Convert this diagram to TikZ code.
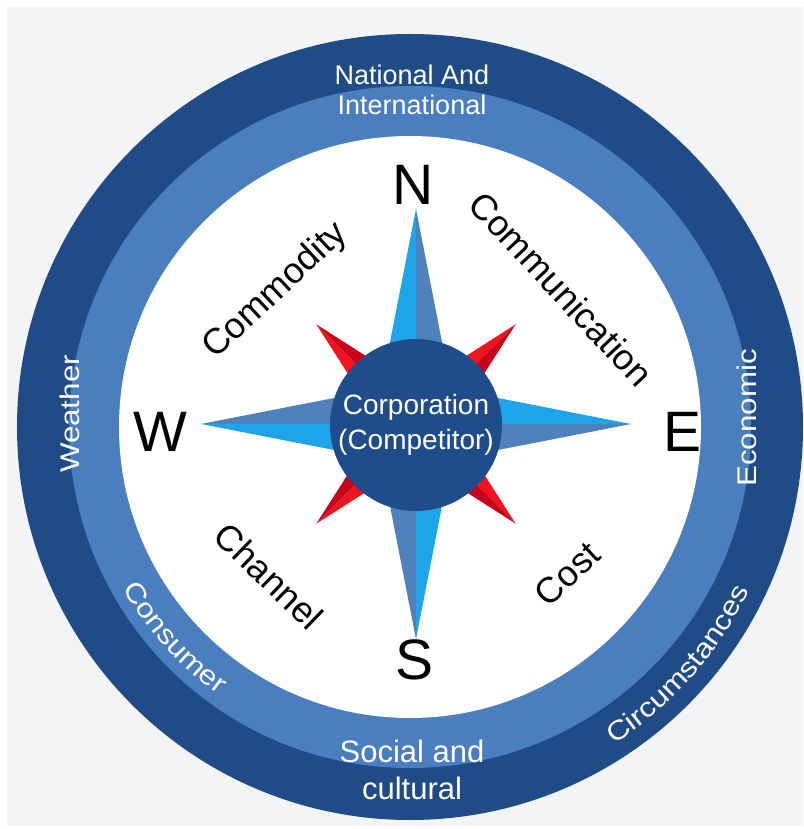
\documentclass[tikz,border=0pt]{standalone}
\usepackage{fontspec}
\setmainfont{Liberation Sans}
\newfontfamily\widefont[FakeStretch=1.16]{Liberation Sans}
\usetikzlibrary{decorations.text}

\definecolor{paper}{HTML}{F3F4F6}
\definecolor{ringdark}{HTML}{1F4B87}
\definecolor{ringlight}{HTML}{4A7EBF}
\definecolor{coreblue}{HTML}{1F4C8A}
\definecolor{armcyan}{HTML}{1EA5E9}
\definecolor{armsteel}{HTML}{4F81BD}
\definecolor{redlight}{HTML}{F0141E}
\definecolor{reddark}{HTML}{C8001A}

\newcommand\ringfont{\widefont\fontsize{27pt}{27pt}\selectfont}

\begin{document}
\begin{tikzpicture}[x=1pt,y=1pt,
  heading/.style={font=\fontsize{57pt}{57pt}\selectfont, inner sep=0pt},
  sector/.style={font=\fontsize{36pt}{36pt}\selectfont, inner sep=0pt},
  ringtext/.style={text=white, inner sep=0pt},
  arctext/.style={decorate, decoration={text along path, text align=center,
      text color=white, text={|\ringfont|#1}}},
]
\useasboundingbox (-410,-402) rectangle (393,427);
\fill[white] (-410,-402) rectangle (393,427);
\fill[paper] (-403,-399) rectangle (393,420);

% the three rings
\fill[ringdark] (0,0) circle[radius=393];
\fill[ringlight] (0,0) circle[radius=341];
\fill[white] (0,0) circle[radius=291];

% labels on the rings
\node[ringtext, align=center, font=\fontsize{27pt}{30pt}\selectfont] (natl) at (2,337) {National And\\International};
\node[ringtext, align=center, font=\fontsize{31pt}{37pt}\selectfont] (social) at (2,-343) {Social and\\cultural};
\node[ringtext, rotate=90, font=\ringfont] (weather) at (-340,13) {Weather};
\node[ringtext, rotate=90, font=\ringfont] (economic) at (337,9) {Economic};
\path[arctext=Consumer] (196.9:329) arc[start angle=196.9, end angle=246.9, radius=329];
\path[arctext=Circumstances] (-71.5:377) arc[start angle=-71.5, end angle=-11.5, radius=377];

% compass rose
\begin{scope}[shift={(6,3)}]
  \foreach \a in {0,90,180,270} {
    \fill[redlight, rotate=\a+45] (0,0) -- (0,141) -- (-31,0) -- cycle;
    \fill[reddark, rotate=\a+45] (0,0) -- (0,141) -- (31,0) -- cycle;
  }
  \foreach \a in {0,90,180,270} {
    \fill[armcyan, rotate=\a] (0,0) -- (0,215) -- (-42,0) -- cycle;
    \fill[armsteel, rotate=\a] (0,0) -- (0,215) -- (42,0) -- cycle;
  }
\end{scope}

\node[circle, fill=coreblue, minimum size=172pt, inner sep=0pt, text=white,
  align=center, font=\fontsize{28pt}{35pt}\selectfont] (core) at (6,2) {Corporation\\(Competitor)};

% cardinal letters
\node[heading] (north) at (3,242) {N};
\node[heading] (south) at (5,-233) {S};
\node[heading] (west) at (-250,-5) {W};
\node[heading] (east) at (273,-5) {E};

% the four sectors
\node[sector, rotate=43] (commodity) at (-134,136) {Commodity};
\node[sector, rotate=-47] (communication) at (151,138) {Communication};
\node[sector, rotate=-44] (channel) at (-141,-149) {Channel};
\node[sector, rotate=43] (cost) at (157,-147) {Cost};
\end{tikzpicture}
\end{document}
